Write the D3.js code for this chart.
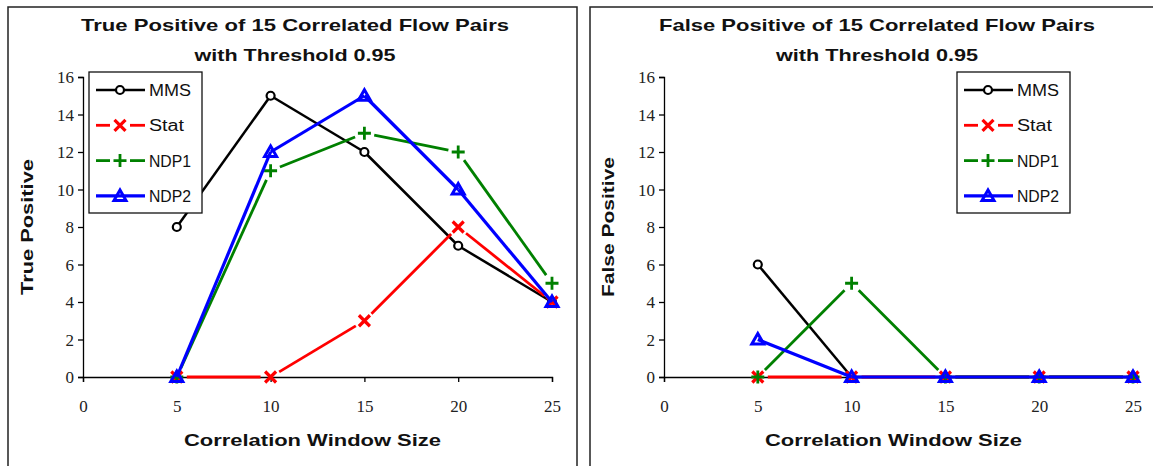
<!DOCTYPE html>
<html><head><meta charset="utf-8">
<script src="https://cdn.jsdelivr.net/npm/d3@7"></script>
<style>body{margin:0;background:#fff}svg{display:block}
.tk text{font-family:"Liberation Serif","Times New Roman",serif !important;font-size:17px}</style>
</head><body>
<svg id="c" width="1153" height="466"></svg>
<script>
const windowSizes = [5, 10, 15, 20, 25];
const xTicks = [0, 5, 10, 15, 20, 25];
const yTicks = [0, 2, 4, 6, 8, 10, 12, 14, 16];
const seriesNames = ["MMS", "Stat", "NDP1", "NDP2"];
// True positive panel
const tpMMS  = [8, 15, 12, 7, 4];
const tpStat = [0, 0, 3, 8, 4];
const tpNDP1 = [0, 11, 13, 12, 5];
const tpNDP2 = [0, 12, 15, 10, 4];
// False positive panel
const fpMMS  = [6, 0, 0, 0, 0];
const fpStat = [0, 0, 0, 0, 0];
const fpNDP1 = [0, 5, 0, 0, 0];
const fpNDP2 = [2, 0, 0, 0, 0];

const styles = {
  MMS:  {color:"#000000", width:2.5, gap:0,  marker:"circle"},
  Stat: {color:"#ff0000", width:2.8, gap:10, marker:"x"},
  NDP1: {color:"#008000", width:2.8, gap:10, marker:"plus"},
  NDP2: {color:"#0000ff", width:3.2, gap:0,  marker:"tri"}
};

const svg = d3.select("#c");

function drawMarker(g, type, x, y, color) {
  if (type === "circle") {
    g.append("circle").attr("cx", x).attr("cy", y).attr("r", 4)
      .attr("fill", "#fff").attr("stroke", color).attr("stroke-width", 2.2);
  } else if (type === "x") {
    const s = 5.5;
    g.append("path").attr("d", `M${x-s},${y-s}L${x+s},${y+s}M${x-s},${y+s}L${x+s},${y-s}`)
      .attr("stroke", color).attr("stroke-width", 3.2).attr("fill", "none");
  } else if (type === "plus") {
    const s = 6.5;
    g.append("path").attr("d", `M${x-s},${y}L${x+s},${y}M${x},${y-s}L${x},${y+s}`)
      .attr("stroke", color).attr("stroke-width", 2.8).attr("fill", "none");
  } else if (type === "tri") {
    const s = 6;
    g.append("path").attr("d", `M${x},${y-s}L${x+s},${y+s*0.75}L${x-s},${y+s*0.75}Z`)
      .attr("stroke", color).attr("stroke-width", 3).attr("fill", "none");
  }
}

function fitText(t, w) {
  t.attr("textLength", w).attr("lengthAdjust", "spacingAndGlyphs");
}

function panel(opts) {
  const g = svg.append("g");
  const x = d3.scaleLinear().domain([0, 25]).range([opts.x0, opts.x1]);
  const y = d3.scaleLinear().domain([0, 16]).range([377, 77]);

  g.append("rect").attr("x", opts.fx).attr("y", 7).attr("width", opts.fw).attr("height", 470)
    .attr("fill", "none").attr("stroke", "#222").attr("stroke-width", 1.5);

  const t1 = g.append("text").attr("x", opts.tc).attr("y", 31).attr("text-anchor", "middle")
    .attr("font-family", "Liberation Sans, Arial, sans-serif").attr("font-weight", "bold")
    .attr("font-size", 17).attr("fill", "#111").text(opts.title1);
  fitText(t1, opts.t1w);
  const t2 = g.append("text").attr("x", opts.tc).attr("y", 61).attr("text-anchor", "middle")
    .attr("font-family", "Liberation Sans, Arial, sans-serif").attr("font-weight", "bold")
    .attr("font-size", 17).attr("fill", "#111").text("with Threshold 0.95");
  fitText(t2, opts.t2w);

  const ya = g.append("g").attr("class", "tk").attr("transform", `translate(${opts.x0},0)`)
    .call(d3.axisLeft(y).tickValues(yTicks).tickSize(5).tickPadding(4));
  const xa = g.append("g").attr("class", "tk").attr("transform", `translate(0,377)`)
    .call(d3.axisBottom(x).tickValues(xTicks).tickSize(5).tickPadding(18));
  [ya, xa].forEach(a => {
    a.attr("font-family", null).attr("font-size", null);
    a.select(".domain").attr("stroke", "#000").attr("stroke-width", 1.3);
    a.selectAll(".tick line").attr("stroke", "#000").attr("stroke-width", 1.3);
    a.selectAll("text").attr("fill", "#222");
  });
  ya.selectAll("text").attr("dy", "0.35em");

  const xl = g.append("text").attr("x", (opts.x0 + opts.x1) / 2 - 5).attr("y", 446).attr("text-anchor", "middle")
    .attr("font-family", "Liberation Sans, Arial, sans-serif").attr("font-weight", "bold")
    .attr("font-size", 17).attr("fill", "#111").text("Correlation Window Size");
  fitText(xl, 257);
  const yl = g.append("text").attr("transform", `translate(${opts.x0 - 50},227) rotate(-90)`)
    .attr("text-anchor", "middle")
    .attr("font-family", "Liberation Sans, Arial, sans-serif").attr("font-weight", "bold")
    .attr("font-size", 17).attr("fill", "#111").text(opts.ylabel);
  fitText(yl, opts.ylw);

  seriesNames.forEach((name, i) => {
    const st = styles[name];
    const sg = g.append("g");
    const vals = opts.data[i];
    const pts = windowSizes.map((w, j) => [x(w), y(vals[j])]);
    for (let j = 0; j < pts.length - 1; j++) {
      let [ax, ay] = pts[j], [bx, by] = pts[j + 1];
      const len = Math.hypot(bx - ax, by - ay);
      const ux = (bx - ax) / len, uy = (by - ay) / len;
      const gp = st.gap;
      sg.append("line")
        .attr("x1", ax + ux * gp).attr("y1", ay + uy * gp)
        .attr("x2", bx - ux * gp).attr("y2", by - uy * gp)
        .attr("stroke", st.color).attr("stroke-width", st.width);
    }
    pts.forEach(p => drawMarker(sg, st.marker, p[0], p[1], st.color));
  });

  const lg = g.append("g");
  lg.append("rect").attr("x", opts.lx).attr("y", 72).attr("width", 113).attr("height", 141)
    .attr("fill", "#fff").attr("stroke", "#111").attr("stroke-width", 1.3);
  seriesNames.forEach((name, i) => {
    const st = styles[name];
    const cy = 90 + i * 35.3;
    const lx0 = opts.lx + 7, lx1 = opts.lx + 56, mx = opts.lx + 31;
    const gp = st.gap;
    if (gp) {
      lg.append("line").attr("x1", lx0).attr("x2", mx - gp).attr("y1", cy).attr("y2", cy)
        .attr("stroke", st.color).attr("stroke-width", st.width);
      lg.append("line").attr("x1", mx + gp).attr("x2", lx1).attr("y1", cy).attr("y2", cy)
        .attr("stroke", st.color).attr("stroke-width", st.width);
    } else {
      lg.append("line").attr("x1", lx0).attr("x2", lx1).attr("y1", cy).attr("y2", cy)
        .attr("stroke", st.color).attr("stroke-width", st.width);
    }
    drawMarker(lg, st.marker, mx, cy, st.color);
    const tt = lg.append("text").attr("x", opts.lx + 60).attr("y", cy + 6)
      .attr("font-family", "Liberation Sans, Arial, sans-serif").attr("font-size", 16)
      .attr("fill", "#111").text(name);
    fitText(tt, name === "Stat" ? 35 : 42);
  });
}

panel({
  fx: 8, fw: 569, x0: 83, x1: 552, tc: 295, t1w: 428, t2w: 201,
  title1: "True Positive of 15 Correlated  Flow Pairs",
  ylabel: "True Positive", ylw: 136, lx: 89,
  data: [tpMMS, tpStat, tpNDP1, tpNDP2]
});
panel({
  fx: 590, fw: 600, x0: 664, x1: 1133, tc: 877, t1w: 436, t2w: 202,
  title1: "False Positive of 15 Correlated  Flow Pairs",
  ylabel: "False Positive", ylw: 140, lx: 957,
  data: [fpMMS, fpStat, fpNDP1, fpNDP2]
});
</script>
</body></html>
